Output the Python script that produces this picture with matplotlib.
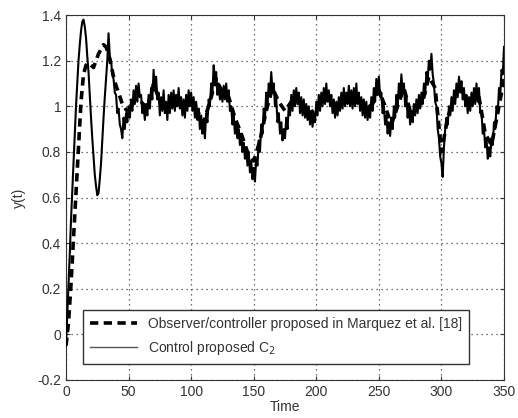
import numpy as np
import matplotlib
matplotlib.use("Agg")
import matplotlib.pyplot as plt

plt.rcParams['font.family'] = ['Liberation Sans', 'DejaVu Sans']

control_y = [
    -0.05, 0.08, 0.2, 0.35, 0.5, 0.62, 0.75, 0.88, 1.0, 1.1,
    1.2, 1.27, 1.33, 1.37, 1.38, 1.35, 1.3, 1.22, 1.15, 1.05,
    0.95, 0.86, 0.78, 0.7, 0.65, 0.61, 0.62, 0.68, 0.75, 0.85,
    0.95, 1.04, 1.12, 1.2, 1.32, 1.22, 1.2, 1.14, 1.12, 1.06,
    1.05, 0.97, 0.99, 0.92, 0.9, 0.86, 0.95, 0.9, 0.97, 0.93,
    1.0, 0.95, 1.03, 0.98, 1.07, 1.01, 1.09, 1.02, 1.1, 1.04,
    1.05, 0.97, 1.0, 0.94, 1.01, 0.96, 1.05, 0.99, 1.08, 1.03,
    1.16, 1.07, 1.13, 1.03, 1.06, 0.96, 1.04, 0.98, 1.07, 0.97,
    1.02, 0.94, 1.05, 0.97, 1.06, 0.99, 1.07, 0.98, 1.05, 1.0,
    1.08, 0.99, 1.04, 0.96, 1.03, 0.95, 1.05, 0.98, 1.07, 1.0,
    1.06, 0.98, 1.04, 0.95, 1.02, 0.94, 0.99, 0.9, 0.96, 0.88,
    0.93, 0.86, 0.97, 0.93, 1.03, 1.0, 1.1, 1.06, 1.18, 1.12,
    1.15, 1.05, 1.1, 1.03, 1.08, 1.02, 1.09, 1.03, 1.1, 1.02,
    1.07, 0.98, 1.0, 0.92, 0.96, 0.88, 0.93, 0.86, 0.9, 0.83,
    0.88, 0.8, 0.84, 0.77, 0.82, 0.74, 0.8, 0.71, 0.76, 0.68,
    0.73, 0.67, 0.77, 0.74, 0.85, 0.8, 0.92, 0.88, 0.99, 0.95,
    1.06, 1.0, 1.1, 1.05, 1.15, 1.07, 1.1, 1.0, 1.03, 0.93,
    0.97, 0.88, 0.93, 0.85, 0.9, 0.86, 0.95, 0.9, 1.0, 0.96,
    1.05, 0.98, 1.07, 1.0, 1.08, 1.01, 1.06, 0.97, 1.04, 0.96,
    1.03, 0.95, 1.01, 0.94, 1.0, 0.92, 0.98, 0.91, 0.97, 0.93,
    1.02, 0.96, 1.05, 0.98, 1.06, 1.0, 1.08, 1.01, 1.1, 1.02,
    1.07, 1.0, 1.05, 0.97, 1.03, 0.95, 1.02, 0.96, 1.04, 0.98,
    1.06, 0.99, 1.08, 1.0, 1.06, 1.01, 1.09, 1.0, 1.07, 0.99,
    1.08, 1.0, 1.1, 1.01, 1.06, 0.98, 1.04, 0.96, 1.03, 0.95,
    1.02, 0.94, 1.0, 0.95, 1.04, 0.98, 1.08, 1.02, 1.12, 1.05,
    1.13, 1.04, 1.06, 0.97, 1.0, 0.92, 0.96, 0.88, 0.93, 0.87,
    0.95, 0.9, 1.0, 0.95, 1.05, 1.0, 1.1, 1.04, 1.14, 1.06,
    1.1, 1.0, 1.04, 0.95, 1.0, 0.92, 0.98, 0.93, 1.01, 0.96,
    1.03, 0.97, 1.05, 0.99, 1.06, 1.01, 1.1, 1.05, 1.15, 1.12,
    1.2, 1.16, 1.23, 1.14, 1.1, 1.02, 1.0, 0.9, 0.86, 0.78,
    0.75, 0.69, 0.82, 0.9, 0.95, 0.92, 1.0, 0.96, 1.04, 0.98,
    1.07, 1.01, 1.1, 1.04, 1.13, 1.06, 1.11, 1.03, 1.08, 1.0,
    1.05, 0.97, 1.04, 0.98, 1.06, 1.0, 1.08, 1.01, 1.1, 1.02,
    1.08, 0.97, 0.98, 0.88, 0.9, 0.82, 0.86, 0.77, 0.82, 0.78,
    0.86, 0.83, 0.93, 0.9, 1.0, 0.97, 1.08, 1.05, 1.16, 1.14,
    1.26,
]
control_t = np.arange(len(control_y))

# Observer/controller of Marquez et al. [18]
observer_t = [0, 2, 4, 6, 8, 10, 12, 14, 16, 18, 20, 22, 24, 26, 28, 30, 32, 34, 36, 38,
              40, 42, 45, 50, 55, 60, 65, 70, 75, 80, 85, 90, 95, 100, 105, 110, 115, 120,
              125, 130, 135, 140, 145, 150, 155, 160, 165, 170, 175, 180, 185, 190, 195,
              200, 205, 210, 215, 220, 225, 230, 235, 240, 245, 250, 255, 260, 265, 270,
              275, 280, 285, 290, 295, 300, 305, 310, 315, 320, 325, 330, 335, 340, 345, 350]
observer_y = [-0.05, 0.05, 0.22, 0.42, 0.62, 0.82, 1.02, 1.14, 1.18, 1.19, 1.18, 1.17, 1.2,
              1.23, 1.25, 1.27, 1.26, 1.23, 1.18, 1.13, 1.09, 1.06, 1.01, 0.97, 1.03, 1.02,
              0.99, 1.1, 1.02, 1.0, 1.02, 1.02, 1.0, 1.01, 0.98, 0.93, 1.02, 1.12, 1.06, 1.04,
              0.95, 0.88, 0.8, 0.76, 0.85, 0.98, 1.08, 1.02, 0.98, 1.02, 1.03, 1.0, 0.97,
              0.99, 1.03, 1.04, 1.0, 1.02, 1.03, 1.04, 1.03, 0.99, 1.01, 1.07, 1.0, 0.92,
              1.0, 1.08, 0.98, 0.99, 1.02, 1.13, 1.08, 0.8, 0.95, 1.03, 1.08, 1.03, 1.03,
              1.04, 0.88, 0.83, 0.97, 1.12]

x_ticks = [0, 50, 100, 150, 200, 250, 300, 350]
y_ticks = [-0.2, 0, 0.2, 0.4, 0.6, 0.8, 1, 1.2, 1.4]
y_labels = ['-0.2', '0', '0.2', '0.4', '0.6', '0.8', '1', '1.2', '1.4']

fig = plt.figure(figsize=(5.18, 4.18), dpi=100)
ax = fig.add_axes([0.1274, 0.091, 0.8456, 0.873])

ax.plot(observer_t, observer_y, color='black', lw=2.6, linestyle=(0, (2.3, 1.5)),
        label='Observer/controller proposed in Marquez et al. [18]', zorder=2)
ax.plot(control_t, control_y, color='black', lw=1.5,
        label='Control proposed C$_2$', zorder=3)

ax.set_xlim(0, 350)
ax.set_ylim(-0.2, 1.4)
ax.set_xticks(x_ticks)
ax.set_yticks(y_ticks)
ax.set_yticklabels(y_labels)
ax.tick_params(direction='in', labelsize=10, colors='#333333', length=3, top=True, right=True)
ax.grid(True, linestyle=(0, (1, 3)), color='#444444', linewidth=0.9)
for s in ax.spines.values():
    s.set_color('#333333')

ax.set_xlabel('Time', fontsize=10, color='#333333', labelpad=1)
ax.set_ylabel('y(t)', fontsize=10, color='#333333', labelpad=8)

leg = ax.legend(loc='lower left', bbox_to_anchor=(0.039, 0.044), borderaxespad=0,
                fancybox=False, framealpha=1, edgecolor='#333333', fontsize=10,
                handlelength=3.4, borderpad=0.5, labelspacing=0.6)
leg.get_frame().set_linewidth(1.0)
leg.get_lines()[1].set_color('#555555')
leg.get_lines()[1].set_linewidth(1.0)
for t in leg.get_texts():
    t.set_color('#333333')

fig.savefig('out.png', dpi=100)
